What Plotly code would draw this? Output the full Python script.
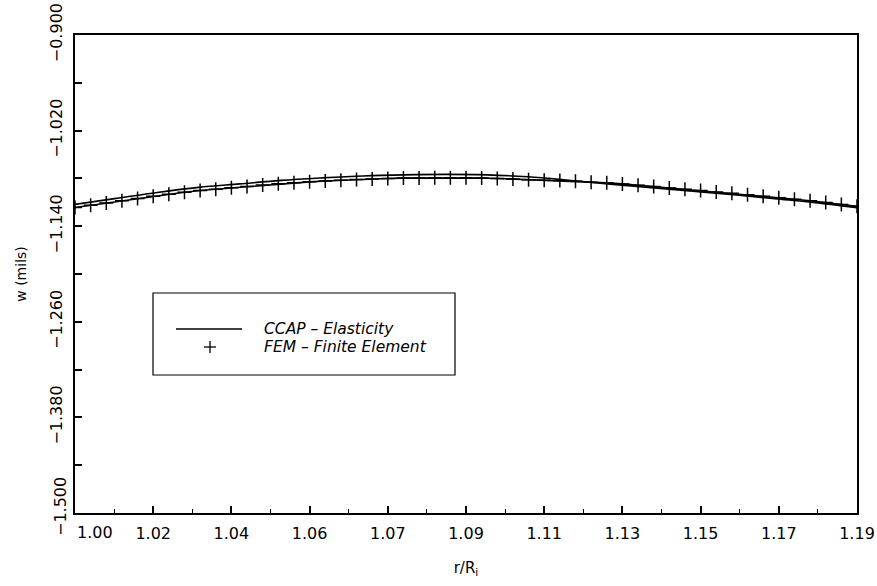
import plotly.graph_objects as go

# ---- data ----
ccap_x = [1.00, 1.01, 1.02, 1.03, 1.04, 1.05, 1.06, 1.07, 1.08, 1.09,
          1.10, 1.11, 1.12, 1.13, 1.14, 1.15, 1.16, 1.17, 1.18, 1.19]
ccap_w = [-1.1126, -1.1051, -1.0976, -1.0913, -1.0869, -1.0825, -1.0794, -1.0769, -1.0756, -1.0750,
          -1.0756, -1.0780, -1.0823, -1.0872, -1.0916, -1.0960, -1.1004, -1.1054, -1.1104, -1.1167]

fem_x = [1.0000, 1.0038, 1.0076, 1.0114, 1.0152, 1.0190, 1.0228, 1.0266, 1.0304, 1.0342,
         1.0380, 1.0418, 1.0456, 1.0494, 1.0532, 1.0570, 1.0608, 1.0646, 1.0684, 1.0722,
         1.0760, 1.0798, 1.0836, 1.0874, 1.0912, 1.0950, 1.0988, 1.1026, 1.1064, 1.1102,
         1.1140, 1.1178, 1.1216, 1.1254, 1.1292, 1.1330, 1.1368, 1.1406, 1.1444, 1.1482,
         1.1520, 1.1558, 1.1596, 1.1634, 1.1672, 1.1710, 1.1748, 1.1786, 1.1824, 1.1862,
         1.1900]
fem_w = [-1.1166, -1.1138, -1.1109, -1.1081, -1.1052, -1.1024, -1.0998, -1.0974, -1.0951, -1.0935,
         -1.0918, -1.0901, -1.0884, -1.0868, -1.0855, -1.0843, -1.0832, -1.0822, -1.0813, -1.0806,
         -1.0801, -1.0796, -1.0794, -1.0792, -1.0791, -1.0793, -1.0795, -1.0801, -1.0808, -1.0816,
         -1.0822, -1.0827, -1.0835, -1.0847, -1.0856, -1.0869, -1.0886, -1.0903, -1.0919, -1.0936,
         -1.0953, -1.0970, -1.0986, -1.1005, -1.1024, -1.1043, -1.1062, -1.1081, -1.1103, -1.1127,
         -1.1151]

x_tick_vals = [1.000, 1.019, 1.038, 1.057, 1.076, 1.095, 1.114, 1.133, 1.152, 1.171, 1.190]
x_tick_text = ["1.00", "1.02", "1.04", "1.06", "1.07", "1.09", "1.11", "1.13", "1.15", "1.17", "1.19"]
x_minor_vals = [1.0095, 1.0285, 1.0475, 1.0665, 1.0855, 1.1045, 1.1235, 1.1425, 1.1615, 1.1805]

y_tick_vals = [-1.500, -1.380, -1.260, -1.140, -1.020, -0.900]
y_tick_text = ["\u22121.500", "\u22121.380", "\u22121.260", "\u22121.140", "\u22121.020", "\u22120.900"]
y_minor_vals = [-1.44, -1.32, -1.20, -1.08, -0.96]

series_names = ["CCAP \u2013 Elasticity", "FEM \u2013 Finite Element"]
x_title = "r/R<sub>i</sub>"
y_title = "w (mils)"

FONT = "DejaVu Sans"
TICK_SIZE = 16

fig = go.Figure()
fig.add_trace(go.Scatter(
    x=ccap_x, y=ccap_w, mode="lines", name=series_names[0],
    line=dict(color="black", width=1.6, shape="spline"), showlegend=False))
fig.add_trace(go.Scatter(
    x=fem_x, y=fem_w, mode="lines+markers", name=series_names[1],
    line=dict(color="black", width=1.6),
    marker=dict(symbol="cross-thin", size=10, color="black",
                line=dict(color="black", width=1.5)),
    showlegend=False))

# ---- pixel helpers for the plot area (75..857 x 35..513) ----
L, R, T, B = 75, 857, 35, 513
def px(x):
    return (x - L) / (R - L)
def py(y):
    return (B - y) / (B - T)

shapes = [
    dict(type="rect", xref="paper", yref="paper",
         x0=px(153), x1=px(455), y0=py(375), y1=py(293),
         line=dict(color="black", width=1.2)),
    dict(type="line", xref="paper", yref="paper",
         x0=px(176), x1=px(242), y0=py(329), y1=py(329),
         line=dict(color="black", width=1.3)),
    dict(type="line", xref="paper", yref="paper",
         x0=px(204), x1=px(216), y0=py(347), y1=py(347),
         line=dict(color="black", width=1.3)),
    dict(type="line", xref="paper", yref="paper",
         x0=px(210), x1=px(210), y0=py(341), y1=py(353),
         line=dict(color="black", width=1.3)),
]

annotations = [
    dict(text="<i>" + series_names[0] + "</i>", xref="paper", yref="paper",
         x=px(262), y=py(329), xanchor="left", yanchor="middle", showarrow=False,
         font=dict(family=FONT, size=15.5, color="black")),
    dict(text="<i>" + series_names[1] + "</i>", xref="paper", yref="paper",
         x=px(262), y=py(347), xanchor="left", yanchor="middle", showarrow=False,
         font=dict(family=FONT, size=15.5, color="black")),
    # first x label and bottom y label are nudged in the reference
    dict(text=x_tick_text[0], xref="x", yref="paper", x=x_tick_vals[0], xshift=20,
         y=py(532), xanchor="center", yanchor="middle", showarrow=False,
         font=dict(family=FONT, size=TICK_SIZE, color="black")),
    dict(text=y_tick_text[0], xref="paper", yref="y", y=y_tick_vals[0], yshift=6,
         x=px(60), textangle=-90, xanchor="center", yanchor="middle", showarrow=False,
         font=dict(family=FONT, size=TICK_SIZE, color="black")),
]

fig.update_layout(
    width=877, height=586,
    margin=dict(l=L, r=877 - R, t=T, b=586 - B, pad=0),
    paper_bgcolor="white", plot_bgcolor="white",
    font=dict(family=FONT, size=15, color="black"),
    shapes=shapes, annotations=annotations, showlegend=False,
)
fig.update_xaxes(
    range=[1.0, 1.19], showgrid=False, zeroline=False,
    showline=True, linecolor="black", linewidth=2, mirror=True,
    ticks="inside", ticklen=7, tickwidth=1.5, tickcolor="black",
    tickvals=x_tick_vals[1:], ticktext=x_tick_text[1:],
    tickfont=dict(family=FONT, size=TICK_SIZE, color="black"),
    ticklabelstandoff=5,
    title=dict(text=x_title, standoff=20, font=dict(family=FONT, size=15, color="black")),
    automargin=False,
    minor=dict(tickvals=x_minor_vals, ticks="inside", ticklen=4,
               tickwidth=1.2, tickcolor="black", showgrid=False),
)
fig.update_yaxes(
    range=[-1.5, -0.9], showgrid=False, zeroline=False,
    showline=True, linecolor="black", linewidth=2, mirror=True,
    ticks="inside", ticklen=7, tickwidth=1.5, tickcolor="black",
    tickvals=y_tick_vals[1:], ticktext=y_tick_text[1:], tickangle=-90,
    tickfont=dict(family=FONT, size=TICK_SIZE, color="black"),
    ticklabelstandoff=5,
    title=dict(text=y_title, standoff=17, font=dict(family=FONT, size=14, color="black")),
    automargin=False,
    minor=dict(tickvals=y_minor_vals, ticks="inside", ticklen=7,
               tickwidth=1.5, tickcolor="black", showgrid=False),
)

fig.write_html("out.html")
